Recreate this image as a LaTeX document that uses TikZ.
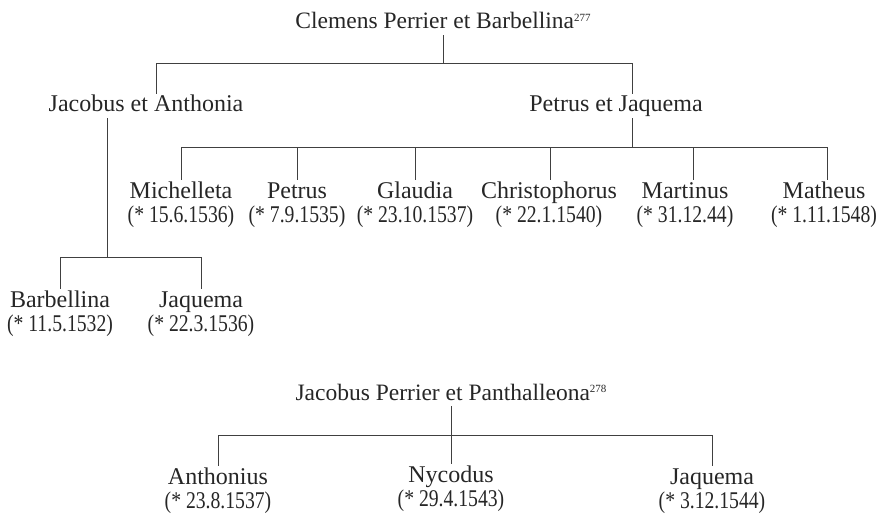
\documentclass[tikz,border=0pt]{standalone}
\usepackage{fontspec}
\usepackage{graphicx}
\setmainfont{Liberation Serif}
\newcommand\namefont{\fontsize{24}{25}\selectfont}
\newcommand\titlefont{\fontsize{23.5}{25}\selectfont}
\newcommand\bdate[1]{\scalebox{0.82}[1]{(* #1)}}
\newcommand\fnmark[1]{\raisebox{0.32em}{\fontsize{11}{11}\selectfont #1}}
\tikzset{
  person/.style={anchor=base, inner sep=2pt, text height=16pt, text depth=5pt,
                 font=\namefont, text=black!85},
  couple/.style={person, text depth=4pt},
  heading/.style={couple, font=\titlefont},
  birth/.style={anchor=base, inner sep=2pt, font=\namefont, text=black!85},
  link/.style={draw=black!75, line width=0.8pt},
}
\begin{document}
\begin{tikzpicture}[x=1pt, y=-1pt]
\useasboundingbox (0,0) rectangle (880,516);

% --- first family: Clemens Perrier ---
\node[heading] (t1) at (443,29) {Clemens Perrier et Barbellina\fnmark{277}};
\node[couple] (ja) at (146,112) {Jacobus et Anthonia};
\node[couple] (pj) at (616,112) {Petrus et Jaquema};

% children of Petrus et Jaquema
\node[person] (mi) at (181,198) {Michelleta};
\node[birth]  (mid) at (181,222) {\bdate{15.6.1536}};
\node[person] (pe) at (297,198) {Petrus};
\node[birth]  (ped) at (297,222) {\bdate{7.9.1535}};
\node[person] (gl) at (415,198) {Glaudia};
\node[birth]  (gld) at (415,222) {\bdate{23.10.1537}};
\node[person] (ch) at (549,198) {Christophorus};
\node[birth]  (chd) at (549,222) {\bdate{22.1.1540}};
\node[person] (mt) at (685,198) {Martinus};
\node[birth]  (mtd) at (685,222) {\bdate{31.12.44}};
\node[person] (ma) at (824,198) {Matheus};
\node[birth]  (mad) at (824,222) {\bdate{1.11.1548}};

% children of Jacobus et Anthonia
\node[person] (ba) at (60,307) {Barbellina};
\node[birth]  (bad) at (60,331) {\bdate{11.5.1532}};
\node[person] (jq) at (201,307) {Jaquema};
\node[birth]  (jqd) at (201,331) {\bdate{22.3.1536}};

% connectors
\draw[link] (t1.south) -- ++(0,28) coordinate (tbar);
\draw[link] ([xshift=10pt]ja.north) |- (tbar) -| ([xshift=16pt]pj.north);

\draw[link] ([xshift=16pt]pj.south) -- ++(0,29) coordinate (pjbar);
\draw[link] (mi.north) |- (pjbar) -| ([xshift=3pt]ma.north);
\foreach \c/\d in {pe/0, gl/0, ch/1, mt/8}
  \draw[link] ([xshift=\d pt]\c.north) -- ([xshift=\d pt]\c.north |- pjbar);

\draw[link] ([xshift=-39pt]ja.south) -- ++(0,139) coordinate (jabar);
\draw[link] (ba.north) |- (jabar) -| (jq.north);

% --- second family: Jacobus Perrier ---
\node[heading] (t2) at (451,400) {Jacobus Perrier et Panthalleona\fnmark{278}};
\node[person] (an) at (218,484) {Anthonius};
\node[birth]  (and) at (218,508) {\bdate{23.8.1537}};
\node[person] (ny) at (451,482) {Nycodus};
\node[birth]  (nyd) at (451,506) {\bdate{29.4.1543}};
\node[person] (jb) at (712,484) {Jaquema};
\node[birth]  (jbd) at (712,508) {\bdate{3.12.1544}};

\path (t2.south) ++(0,29) coordinate (t2bar);
\draw[link] (t2.south) -- (ny.north);
\draw[link] (an.north) |- (t2bar) -| (jb.north);
\end{tikzpicture}
\end{document}
